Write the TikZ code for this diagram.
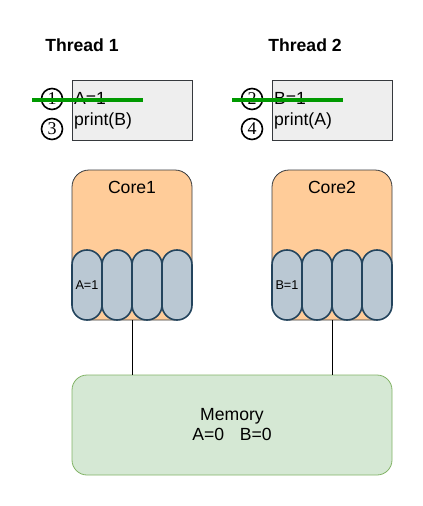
\documentclass[tikz,border=0pt]{standalone}
\usepackage{fontspec}
\setmainfont{Liberation Sans}
\newfontfamily\serifnum{Liberation Serif}
\definecolor{thrfill}{HTML}{EEEEEE}
\definecolor{darkstroke}{HTML}{36393D}
\definecolor{corefill}{HTML}{FFCC99}
\definecolor{regfill}{HTML}{BAC8D3}
\definecolor{regstroke}{HTML}{23445D}
\definecolor{memfill}{HTML}{D5E8D4}
\definecolor{memstroke}{HTML}{82B366}
\definecolor{strike}{HTML}{009900}
\begin{document}
\begin{tikzpicture}[x=1pt,y=-1pt,
  lbl/.style={font=\fontsize{17.6}{20}\selectfont, inner sep=0pt},
  title/.style={font=\fontsize{17.6}{20}\selectfont\bfseries, inner sep=0pt},
  thrbox/.style={draw=darkstroke, fill=thrfill, line width=0.8pt},
  corebox/.style={draw=darkstroke, fill=corefill, line width=0.8pt, rounded corners=17pt},
  regbox/.style={draw=regstroke, fill=regfill, line width=1.6pt, rounded corners=14.9pt},
  membox/.style={draw=memstroke, fill=memfill, line width=0.8pt, rounded corners=15pt},
  numc/.style={circle, draw=black, line width=1.6pt, minimum size=21pt, inner sep=0pt, font=\serifnum\fontsize{18}{18}\selectfont},
  strikeline/.style={draw=strike, line width=3.5pt},
  link/.style={draw=black, line width=0.8pt}]
\useasboundingbox (0,0) rectangle (423,506);

% thread titles
\node[title] (t1) at (82,45) {Thread 1};
\node[title] (t2) at (305,45) {Thread 2};

% thread boxes
\draw[thrbox] (72,80) rectangle (192,140);
\draw[thrbox] (272,80) rectangle (392,140);
\node[lbl, anchor=west] (a1) at (74,98) {A=1};
\node[lbl, anchor=west] (pb) at (74,121) {print(B)};
\node[lbl, anchor=west] (b1) at (274,98) {B=1};
\node[lbl, anchor=west] (pa) at (274,121) {print(A)};

% step circles
\node[numc] (c1) at (52,99) {1};
\node[numc] (c3) at (52,129) {3};
\node[numc] (c2) at (252,99) {2};
\node[numc] (c4) at (252,129) {4};

% strike lines
\coordinate (s1a) at (32,100); \coordinate (s1b) at (143,100);
\coordinate (s2a) at (232,100); \coordinate (s2b) at (343,100);
\draw[strikeline] (s1a) -- (s1b);
\draw[strikeline] (s2a) -- (s2b);

% cores
\draw[corebox] (72,170) rectangle (192,320);
\draw[corebox] (272,170) rectangle (392,320);
\node[lbl] (core1) at (132,187) {Core1};
\node[lbl] (core2) at (332,187) {Core2};

% registers
\foreach \x in {72,102,132,162} {
  \draw[regbox] (\x,250) rectangle (\x+30,320);
}
\foreach \x in {272,302,332,362} {
  \draw[regbox] (\x,250) rectangle (\x+30,320);
}
\node[inner sep=0pt, font=\fontsize{12.7}{14}\selectfont] (ra) at (87,285) {A=1};
\node[inner sep=0pt, font=\fontsize{12.7}{14}\selectfont] (rb) at (287,285) {B=1};

% memory
\draw[membox] (72,375) rectangle (392,475);
\node[lbl, align=center] (mem) at (232,425) {Memory\\A=0\hspace{0.9em}B=0};

% links
\coordinate (l1a) at (132,320); \coordinate (l1b) at (132,375);
\coordinate (l2a) at (332,320); \coordinate (l2b) at (332,375);
\draw[link] (l1a) -- (l1b);
\draw[link] (l2a) -- (l2b);
\end{tikzpicture}
\end{document}
